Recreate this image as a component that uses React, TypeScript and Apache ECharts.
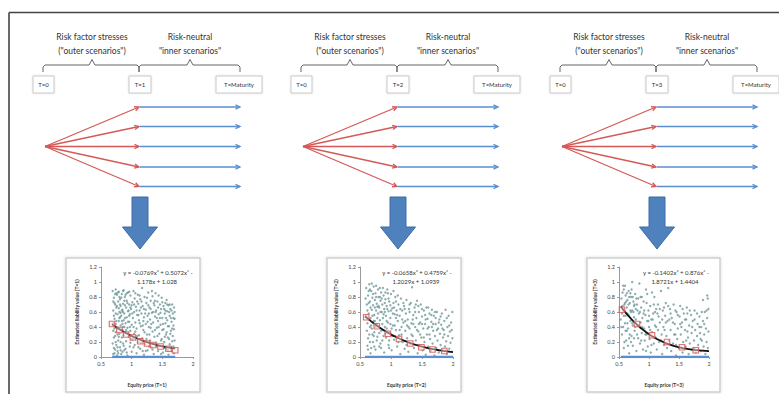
import { useEffect, useRef } from "react";
import * as echarts from "echarts";

const W = 779;
const H = 394;
const FONT = "Lato, 'Open Sans', sans-serif";

// Horizon labels for the three nested-simulation steps
const horizons = ["T=1", "T=2", "T=3"];
const outerTitle = ["Risk factor stresses", '("outer scenarios")'];
const innerTitle = ["Risk-neutral", '"inner scenarios"'];
const startLabel = "T=0";
const endLabel = "T=Maturity";

// Axis ticks shared by the three regression panels
const xTicks = { min: 0.5, max: 2, interval: 0.5 };
const yTicks = { min: 0, max: 1.2, interval: 0.2 };

// Cubic trend-line coefficients [x^3, x^2, x, const]
const coeffsT1 = [-0.0769, 0.5072, -1.178, 1.028];
const coeffsT2 = [-0.0658, 0.4759, -1.2029, 1.0939];
const coeffsT3 = [-0.1402, 0.876, -1.8721, 1.4404];

// x-extent of the trend line and of the zero-valued points
const rangeT1 = [0.68, 1.71];
const rangeT2 = [0.58, 2.0];
const rangeT3 = [0.53, 2.0];

// Regression points (red squares)
const regressionT1 = [
  [0.68, 0.44], [0.8, 0.36], [0.91, 0.3], [1.02, 0.26], [1.14, 0.21],
  [1.25, 0.18], [1.35, 0.16], [1.47, 0.14], [1.6, 0.11], [1.71, 0.09],
];
const regressionT2 = [
  [0.6, 0.53], [0.77, 0.41], [0.95, 0.31], [1.13, 0.24], [1.31, 0.18],
  [1.49, 0.13], [1.67, 0.1], [1.86, 0.08],
];
const regressionT3 = [
  [0.55, 0.63], [0.8, 0.44], [1.05, 0.29], [1.3, 0.2], [1.55, 0.13], [1.78, 0.09],
];

// Simulated liability values against equity price
const scatterT1 = [
  [0.69,0.88],[0.70,0.62],[0.70,0.35],[0.71,0.12],[0.71,0.79],[0.72,0.51],[0.72,0.05],[0.73,0.70],[0.73,0.28],[0.74,0.90],
  [0.74,0.44],[0.75,0.16],[0.75,0.66],[0.76,0.83],[0.76,0.38],[0.77,0.57],[0.77,0.08],[0.78,0.74],[0.78,0.22],[0.79,0.48],
  [0.79,0.87],[0.80,0.31],[0.80,0.60],[0.81,0.13],[0.81,0.77],[0.82,0.42],[0.82,0.68],[0.83,0.04],[0.83,0.55],[0.84,0.84],
  [0.84,0.26],[0.85,0.63],[0.85,0.36],[0.86,0.71],[0.86,0.18],[0.87,0.49],[0.87,0.89],[0.88,0.58],[0.88,0.09],[0.89,0.33],
  [0.89,0.80],[0.90,0.45],[0.91,0.66],[0.91,0.21],[0.92,0.53],[0.92,0.75],[0.93,0.39],[0.93,0.02],[0.94,0.61],[0.94,0.86],
  [0.95,0.27],[0.96,0.47],[0.96,0.70],[0.97,0.14],[0.97,0.57],[0.98,0.82],[0.98,0.35],[0.99,0.64],[1.00,0.43],[1.00,0.07],
  [1.01,0.73],[1.02,0.24],[1.02,0.52],[1.03,0.88],[1.04,0.60],[1.04,0.31],[1.05,0.16],[1.05,0.78],[1.06,0.46],[1.07,0.67],
  [1.08,0.05],[1.08,0.38],[1.09,0.56],[1.10,0.83],[1.10,0.20],[1.11,0.71],[1.12,0.49],[1.12,0.29],[1.13,0.62],[1.14,0.11],
  [1.14,0.77],[1.15,0.41],[1.16,0.58],[1.17,0.92],[1.17,0.25],[1.18,0.68],[1.19,0.36],[1.20,0.03],[1.20,0.53],[1.21,0.80],
  [1.22,0.17],[1.23,0.63],[1.23,0.44],[1.24,0.72],[1.25,0.30],[1.26,0.55],[1.26,0.09],[1.27,0.86],[1.28,0.40],[1.29,0.66],
  [1.30,0.22],[1.30,0.50],[1.31,0.75],[1.32,0.13],[1.33,0.59],[1.34,0.34],[1.34,0.81],[1.35,0.46],[1.36,0.04],[1.37,0.69],
  [1.37,0.27],[1.38,0.54],[1.39,0.85],[1.40,0.19],[1.40,0.62],[1.41,0.39],[1.42,0.74],[1.43,0.08],[1.43,0.48],[1.44,0.57],
  [1.45,0.31],[1.46,0.70],[1.46,0.15],[1.47,0.43],[1.48,0.64],[1.49,0.24],[1.49,0.79],[1.50,0.52],[1.51,0.06],[1.52,0.37],
  [1.52,0.68],[1.53,0.20],[1.54,0.58],[1.55,0.45],[1.55,0.72],[1.56,0.11],[1.57,0.33],[1.58,0.61],[1.58,0.49],[1.59,0.26],
  [1.60,0.69],[1.60,0.03],[1.61,0.41],[1.62,0.55],[1.62,0.17],[1.63,0.64],[1.64,0.35],[1.65,0.47],[1.65,0.08],[1.66,0.70],
  [1.67,0.28],[1.67,0.58],[1.68,0.14],[1.68,0.42],[1.69,0.66],[1.70,0.22],[1.70,0.51],
  [0.70,0.45],[0.72,0.72],[0.74,0.58],[0.76,0.02],[0.78,0.39],[0.80,0.80],[0.82,0.20],[0.84,0.48],[0.86,0.60],[0.88,0.75],
  [0.90,0.11],[0.92,0.85],[0.94,0.32],[0.96,0.55],[0.98,0.19],[1.00,0.69],[1.03,0.40],[1.06,0.85],[1.07,0.26],[1.09,0.74],
  [1.11,0.13],[1.13,0.45],[1.15,0.66],[1.18,0.08],[1.19,0.48],[1.22,0.58],[1.24,0.24],[1.27,0.69],[1.28,0.14],[1.31,0.39],
  [1.33,0.88],[1.35,0.60],[1.36,0.18],[1.38,0.75],[1.41,0.52],[1.42,0.28],[1.44,0.82],[1.47,0.59],[1.48,0.04],[1.50,0.36],
  [1.53,0.64],[1.54,0.27],[1.56,0.52],[1.57,0.76],[1.59,0.09],[1.61,0.60],[1.63,0.31],[1.64,0.52],[1.66,0.21],[1.69,0.37],
  [0.71,0.26],[0.73,0.10],[0.75,0.85],[0.77,0.30],[0.79,0.65],[0.81,0.53],[0.83,0.36],[0.85,0.07],[0.87,0.29],[0.89,0.52],
  [0.69,0.18],[0.70,0.74],[0.71,0.55],[0.72,0.38],[0.73,0.84],[0.74,0.20],[0.75,0.48],[0.76,0.68],[0.77,0.13],[0.78,0.86],
  [0.79,0.27],[0.80,0.52],[0.81,0.70],[0.82,0.09],[0.83,0.79],[0.84,0.62],[0.85,0.44],[0.86,0.88],[0.87,0.15],[0.88,0.40],
  [0.89,0.69],[0.90,0.83],[0.91,0.36],[0.92,0.06],[0.93,0.72],[0.94,0.47],[0.95,0.62],[0.96,0.87],[0.97,0.40],[0.98,0.66],
  [0.99,0.24],[1.01,0.58],[1.03,0.13],[1.04,0.70],[1.06,0.34],[1.08,0.62],[1.09,0.28],[1.11,0.56],[1.13,0.82],[1.15,0.19],
  [1.16,0.74],[1.18,0.42],[1.20,0.64],[1.21,0.33],[1.23,0.08],[1.25,0.79],[1.26,0.47],[1.28,0.58],[1.29,0.30],[1.31,0.64],
  [1.32,0.44],[1.34,0.10],[1.36,0.72],[1.38,0.36],[1.39,0.60],[1.41,0.14],[1.43,0.66],[1.44,0.40],[1.46,0.52],[1.48,0.22],
  [1.50,0.73],[1.51,0.44],[1.53,0.12],[1.55,0.62],[1.56,0.30],[1.58,0.70],[1.59,0.41],[1.61,0.24],[1.62,0.70],[1.64,0.13],
  [1.65,0.62],[1.66,0.38],[1.68,0.52],[1.69,0.05],[1.70,0.60],[0.70,0.04],[0.74,0.33],[0.78,0.05],[0.82,0.59],[0.86,0.40],
];
const scatterT2 = [
  [0.60,0.92],[0.61,0.70],[0.62,0.45],[0.62,0.15],[0.63,0.82],[0.64,0.58],[0.65,0.97],[0.65,0.30],[0.66,0.74],[0.67,0.52],
  [0.67,0.05],[0.68,0.88],[0.69,0.63],[0.69,0.38],[0.70,0.79],[0.71,0.20],[0.71,0.69],[0.72,0.94],[0.73,0.56],[0.73,0.33],
  [0.74,0.76],[0.75,0.10],[0.75,0.85],[0.76,0.62],[0.77,0.44],[0.77,0.71],[0.78,0.27],[0.79,0.90],[0.79,0.58],[0.80,0.80],
  [0.81,0.14],[0.81,0.66],[0.82,0.49],[0.83,0.75],[0.84,0.35],[0.84,0.86],[0.85,0.60],[0.86,0.22],[0.86,0.70],[0.87,0.52],
  [0.88,0.82],[0.89,0.06],[0.89,0.64],[0.90,0.40],[0.91,0.77],[0.92,0.55],[0.92,0.26],[0.93,0.68],[0.94,0.90],[0.95,0.46],
  [0.96,0.16],[0.96,0.61],[0.97,0.74],[0.98,0.33],[0.99,0.52],[1.00,0.84],[1.01,0.09],[1.02,0.65],[1.03,0.42],[1.04,0.72],
  [1.05,0.23],[1.06,0.57],[1.07,0.80],[1.08,0.36],[1.09,0.62],[1.10,0.14],[1.11,0.48],[1.12,0.70],[1.13,0.29],[1.14,0.55],
  [1.15,0.04],[1.16,0.78],[1.17,0.40],[1.18,0.62],[1.19,0.20],[1.20,0.46],[1.21,0.68],[1.22,0.11],[1.23,0.35],[1.24,0.58],
  [1.25,0.76],[1.26,0.25],[1.27,0.50],[1.28,0.07],[1.29,0.64],[1.30,0.38],[1.31,0.18],[1.32,0.72],[1.33,0.45],[1.34,0.93],
  [1.35,0.28],[1.36,0.56],[1.37,0.12],[1.38,0.66],[1.39,0.40],[1.40,0.22],[1.41,0.52],[1.42,0.75],[1.43,0.05],[1.44,0.34],
  [1.45,0.60],[1.46,0.16],[1.47,0.46],[1.48,0.70],[1.49,0.26],[1.50,0.54],[1.51,0.09],[1.52,0.38],[1.53,0.62],[1.54,0.20],
  [1.55,0.44],[1.56,0.03],[1.57,0.66],[1.58,0.30],[1.59,0.51],[1.60,0.14],[1.61,0.40],[1.62,0.58],[1.63,0.24],[1.64,0.08],
  [1.65,0.47],[1.66,0.63],[1.67,0.18],[1.68,0.35],[1.69,0.55],[1.70,0.02],[1.71,0.28],[1.72,0.44],[1.73,0.12],[1.74,0.60],
  [1.75,0.22],[1.76,0.38],[1.77,0.06],[1.78,0.50],[1.79,0.31],[1.80,0.16],[1.81,0.43],[1.82,0.58],[1.83,0.09],[1.84,0.26],
  [1.85,0.36],[1.86,0.48],[1.87,0.14],[1.88,0.63],[1.89,0.21],[1.90,0.04],[1.91,0.40],[1.92,0.28],[1.93,0.55],[1.94,0.11],
  [1.95,0.34],[1.96,0.19],[1.97,0.46],[1.98,0.07],[1.99,0.25],[1.99,0.60],
  [0.60,0.55],[0.63,0.25],[0.64,0.88],[0.66,0.40],[0.68,0.12],[0.70,0.55],[0.72,0.28],[0.74,0.48],[0.76,0.95],[0.78,0.67],
  [0.80,0.41],[0.82,0.92],[0.83,0.18],[0.85,0.78],[0.87,0.36],[0.88,0.57],[0.90,0.72],[0.91,0.31],[0.93,0.48],[0.95,0.85],
  [0.97,0.22],[0.99,0.69],[1.01,0.38],[1.03,0.58],[1.05,0.66],[1.08,0.52],[1.11,0.82],[1.14,0.36],[1.18,0.50],[1.22,0.64],
  [1.26,0.42],[1.30,0.60],[1.35,0.50],[1.40,0.70],[1.45,0.44],[1.50,0.64],[1.55,0.56],[1.60,0.66],[1.66,0.40],[1.72,0.52],
  [0.59,0.78],[0.61,0.35],[0.62,0.62],[0.63,0.10],[0.64,0.72],[0.66,0.90],[0.66,0.20],[0.67,0.66],[0.68,0.42],[0.69,0.98],
  [0.70,0.30],[0.71,0.84],[0.72,0.48],[0.73,0.14],[0.74,0.66],[0.75,0.40],[0.76,0.80],[0.77,0.22],[0.78,0.52],[0.80,0.68],
  [0.81,0.32],[0.82,0.80],[0.83,0.60],[0.84,0.12],[0.86,0.44],[0.87,0.92],[0.88,0.28],[0.90,0.60],[0.91,0.86],[0.93,0.38],
  [0.94,0.64],[0.96,0.78],[0.97,0.12],[0.99,0.44],[1.00,0.62],[1.02,0.28],[1.04,0.88],[1.06,0.42],[1.08,0.74],[1.10,0.56],
  [1.12,0.20],[1.15,0.64],[1.17,0.30],[1.20,0.72],[1.23,0.48],[1.25,0.16],[1.28,0.40],[1.30,0.70],[1.33,0.30],[1.36,0.44],
  [1.39,0.60],[1.42,0.36],[1.44,0.68],[1.47,0.30],[1.50,0.44],[1.53,0.26],[1.56,0.50],[1.59,0.38],[1.62,0.30],[1.65,0.56],
  [1.68,0.44],[1.71,0.60],[1.74,0.36],[1.77,0.46],[1.80,0.54],[1.83,0.38],[1.86,0.30],[1.90,0.52],[1.94,0.42],[1.98,0.36],
];
const scatterT3 = [
  [0.53,0.50],[0.54,0.78],[0.55,0.30],[0.56,0.86],[0.57,0.62],[0.58,0.12],[0.59,0.70],[0.60,0.95],[0.60,0.45],[0.61,0.82],
  [0.62,0.22],[0.63,0.66],[0.64,0.76],[0.65,0.38],[0.66,0.88],[0.66,0.56],[0.67,0.05],[0.68,0.72],[0.69,0.48],[0.70,0.80],
  [0.71,0.28],[0.72,0.62],[0.72,1.00],[0.73,0.15],[0.74,0.74],[0.75,0.53],[0.76,0.35],[0.77,0.84],[0.78,0.64],[0.79,0.08],
  [0.80,0.70],[0.81,0.42],[0.82,0.25],[0.83,0.58],[0.84,0.98],[0.85,0.18],[0.86,0.46],[0.87,0.66],[0.88,0.32],[0.89,0.52],
  [0.90,0.10],[0.91,0.74],[0.92,0.38],[0.93,0.22],[0.94,0.56],[0.95,0.90],[0.96,0.30],[0.97,0.48],[0.98,0.14],[0.99,0.62],
  [1.00,0.40],[1.01,0.24],[1.02,0.68],[1.03,0.06],[1.04,0.50],[1.05,0.33],[1.07,0.58],[1.08,0.18],[1.09,0.80],[1.10,0.42],
  [1.11,0.26],[1.12,0.64],[1.13,0.10],[1.15,0.36],[1.16,0.54],[1.17,0.20],[1.18,0.46],[1.20,0.88],[1.21,0.30],[1.22,0.04],
  [1.23,0.62],[1.24,0.40],[1.25,0.16],[1.27,0.55],[1.28,0.72],[1.29,0.28],[1.30,0.12],[1.31,0.48],[1.32,0.92],[1.33,0.22],
  [1.35,0.64],[1.36,0.36],[1.37,0.08],[1.38,0.52],[1.40,0.18],[1.41,0.70],[1.42,0.30],[1.43,0.44],[1.45,0.02],[1.46,0.60],
  [1.47,0.24],[1.48,0.38],[1.50,0.12],[1.51,0.54],[1.52,0.68],[1.53,0.30],[1.55,0.46],[1.56,0.06],[1.57,0.20],[1.58,0.58],
  [1.60,0.36],[1.61,0.14],[1.62,0.50],[1.63,0.66],[1.65,0.26],[1.66,0.04],[1.67,0.42],[1.68,0.18],[1.70,0.56],[1.71,0.32],
  [1.72,0.10],[1.73,0.48],[1.75,0.22],[1.76,0.62],[1.77,0.36],[1.78,0.06],[1.80,0.28],[1.81,0.44],[1.82,0.16],[1.84,0.54],
  [1.85,0.32],[1.86,0.08],[1.87,0.40],[1.88,0.22],[1.90,0.76],[1.90,0.48],[1.91,0.14],[1.92,0.30],[1.93,0.60],[1.94,0.04],
  [1.95,0.38],[1.96,0.20],[1.97,0.82],[1.97,0.52],[1.98,0.12],[1.99,0.34],[1.99,0.64],
  [0.55,0.58],[0.57,0.40],[0.58,0.90],[0.59,0.20],[0.61,0.55],[0.62,0.74],[0.63,0.35],[0.64,0.58],[0.65,0.15],[0.67,0.80],
  [0.68,0.30],[0.69,0.62],[0.70,0.20],[0.71,0.90],[0.73,0.42],[0.74,0.60],[0.75,0.25],[0.76,0.70],[0.78,0.50],[0.80,0.30],
  [0.82,0.78],[0.85,0.60],[0.88,0.80],[0.92,0.62],[0.96,0.72],[1.00,0.55],[1.05,0.86],[1.10,0.60],[1.15,0.70],[1.25,0.66],
  [1.34,0.50],[1.44,0.62],[1.54,0.40],[1.64,0.58],
  [0.54,0.40],[0.56,0.68],[0.57,0.95],[0.58,0.55],[0.60,0.72],[0.61,0.35],[0.63,0.85],[0.64,0.45],[0.66,0.70],[0.67,0.25],
  [0.69,0.85],[0.70,0.60],[0.72,0.45],[0.73,0.80],[0.75,0.68],[0.77,0.40],[0.79,0.78],[0.81,0.62],[0.83,0.42],[0.86,0.80],
  [0.89,0.40],[0.91,0.58],[0.94,0.30],[0.97,0.84],[0.99,0.48],[1.02,0.36],[1.06,0.50],[1.08,0.70],[1.12,0.40],[1.14,0.58],
  [1.18,0.64],[1.22,0.50],[1.26,0.36],[1.28,0.46],[1.32,0.68],[1.36,0.58],[1.40,0.46],[1.44,0.30],[1.48,0.56],[1.52,0.44],
  [1.56,0.64],[1.60,0.50],[1.64,0.34],[1.68,0.62],[1.72,0.40],[1.76,0.50],[1.80,0.58],[1.84,0.40],[1.88,0.60],[1.92,0.44],
  [1.96,0.62],[1.98,0.78],[1.20,0.22],[1.04,0.16],[0.95,0.08],[0.87,0.22],[1.45,0.16],[1.62,0.22],[1.75,0.12],[1.86,0.24],
];

// Panel geometry (pixels): diagram origin, result box left edge, plot left, plot width
const panelLayout = [
  { origin: 45, box: 66, boxW: 134, plot: 101, plotW: 92 },
  { origin: 303, box: 327, boxW: 134, plot: 360, plotW: 93 },
  { origin: 562, box: 587, boxW: 133, plot: 619, plotW: 90 },
];
const PLOT_TOP = 267;
const PLOT_H = 90;

const RED = "#d45a58";
const BLUE = "#5b8ed0";
const ARROW_BLUE = "#4f81bd";

const fmt = (v: number) => String(v);

function trendLine(c: number[], range: number[]) {
  const pts: number[][] = [];
  const steps = 60;
  for (let i = 0; i <= steps; i++) {
    const x = range[0] + ((range[1] - range[0]) * i) / steps;
    pts.push([x, ((c[0] * x + c[1]) * x + c[2]) * x + c[3]]);
  }
  return pts;
}

function equationLines(c: number[]) {
  const s1 = c[1] < 0 ? "-" : "+";
  const s2 = c[2] < 0 ? "-" : "+";
  const s3 = c[3] < 0 ? "-" : "+";
  return [
    `y = ${fmt(c[0])}x³ ${s1} ${fmt(Math.abs(c[1]))}x² ${s2}`,
    `${fmt(Math.abs(c[2]))}x ${s3} ${fmt(Math.abs(c[3]))}`,
  ];
}

function arrowHead(x1: number, y1: number, x2: number, y2: number, color: string) {
  const a = Math.atan2(y2 - y1, x2 - x1);
  const L = 5;
  const s = 0.45;
  return {
    type: "polyline",
    shape: {
      points: [
        [x2 - L * Math.cos(a - s), y2 - L * Math.sin(a - s)],
        [x2, y2],
        [x2 - L * Math.cos(a + s), y2 - L * Math.sin(a + s)],
      ],
    },
    style: { stroke: color, lineWidth: 1.3, fill: null },
    silent: true,
  };
}

function diagramElements(o: number, horizon: string) {
  const els: any[] = [];
  const mid = o + 94;
  const end = o + 195;
  const c1 = o + 47;
  const c2 = o + 145;
  const textStyle = (x: number, y: number, t: string, size: number) => ({
    type: "text",
    x,
    y,
    style: { text: t, fill: "#333", font: `${size}px ${FONT}`, align: "center", verticalAlign: "middle" },
    silent: true,
  });
  els.push(textStyle(c1, 37, outerTitle[0], 8.5));
  els.push(textStyle(c1, 51, outerTitle[1], 8.5));
  els.push(textStyle(c2, 37, innerTitle[0], 8.5));
  els.push(textStyle(c2, 51, innerTitle[1], 8.5));

  // curly braces over the two time spans
  const brace = (a: number, b: number, c: number) => ({
    type: "polyline",
    shape: {
      points: [
        [a, 72], [a, 67], [a + 2, 65], [c - 3, 65], [c, 59.5], [c + 3, 65], [b - 2, 65], [b, 67], [b, 72],
      ],
    },
    style: { stroke: "#666", lineWidth: 1, fill: null },
    silent: true,
  });
  els.push(brace(o - 2, mid, c1));
  els.push(brace(mid, end, c2));

  // time-point boxes
  const box = (x: number, w: number, t: string) => [
    {
      type: "rect",
      shape: { x, y: 76, width: w, height: 17 },
      style: { fill: "#fff", stroke: "#c9c9c9", lineWidth: 1, shadowBlur: 2, shadowColor: "rgba(0,0,0,0.12)" },
      silent: true,
    },
    textStyle(x + w / 2, 84.5, t, 6),
  ];
  els.push(...box(o - 12, 21, startLabel));
  els.push(...box(o + 84, 22, horizon));
  els.push(...box(o + 171, 46, endLabel));

  // outer (red) and inner (blue) scenario paths
  const ys = [107, 126.5, 146.5, 167, 186.5];
  const oy = 146.5;
  ys.forEach((y) => {
    els.push({
      type: "line",
      shape: { x1: o, y1: oy, x2: mid, y2: y },
      style: { stroke: RED, lineWidth: 1.3 },
      silent: true,
    });
    els.push(arrowHead(o, oy, mid, y, RED));
    els.push({
      type: "line",
      shape: { x1: mid + 1, y1: y, x2: end, y2: y },
      style: { stroke: BLUE, lineWidth: 1.3 },
      silent: true,
    });
    els.push(arrowHead(mid, y, end, y, BLUE));
  });

  // block arrow pointing to the regression panel
  const c = o + 95;
  els.push({
    type: "polygon",
    shape: {
      points: [
        [c - 8, 197], [c + 8, 197], [c + 8, 227], [c + 17.5, 227], [c, 249], [c - 17.5, 227], [c - 8, 227],
      ],
    },
    style: { fill: ARROW_BLUE, stroke: "#3d6ca6", lineWidth: 1 },
    silent: true,
  });
  return els;
}

export default function App() {
  const ref = useRef<HTMLDivElement>(null);

  useEffect(() => {
    if (!ref.current) return;
    const chart = echarts.init(ref.current, undefined, { renderer: "svg", width: W, height: H });

    const panels = [
      { coeffs: coeffsT1, range: rangeT1, reg: regressionT1, pts: scatterT1 },
      { coeffs: coeffsT2, range: rangeT2, reg: regressionT2, pts: scatterT2 },
      { coeffs: coeffsT3, range: rangeT3, reg: regressionT3, pts: scatterT3 },
    ];

    const graphic: any[] = [
      { type: "line", shape: { x1: 9, y1: 12.5, x2: W, y2: 12.5 }, style: { stroke: "#444", lineWidth: 1.6 }, silent: true },
      { type: "line", shape: { x1: 9, y1: 12.5, x2: 9, y2: H }, style: { stroke: "#444", lineWidth: 1.6 }, silent: true },
    ];

    const grid: any[] = [];
    const xAxis: any[] = [];
    const yAxis: any[] = [];
    const series: any[] = [];

    panels.forEach((p, i) => {
      const L = panelLayout[i];
      const h = horizons[i];
      graphic.push(...diagramElements(L.origin, h));

      // result panel frame
      graphic.push({
        type: "rect",
        z: -10,
        shape: { x: L.box, y: 258, width: L.boxW, height: 134 },
        style: { fill: "#fff", stroke: "#cfcfcf", lineWidth: 1.5, shadowBlur: 3, shadowColor: "rgba(0,0,0,0.15)" },
        silent: true,
      });
      const eq = equationLines(p.coeffs);
      const ex = L.plot + 57;
      graphic.push({
        type: "text",
        x: ex,
        y: 272,
        style: { text: eq[0], fill: "#333", font: `6px ${FONT}`, align: "center", verticalAlign: "middle" },
        silent: true,
      });
      graphic.push({
        type: "text",
        x: ex - 1,
        y: 281,
        style: { text: eq[1], fill: "#333", font: `6px ${FONT}`, align: "center", verticalAlign: "middle" },
        silent: true,
      });

      grid.push({ left: L.plot, top: PLOT_TOP, width: L.plotW, height: PLOT_H });
      const axisCommon = {
        axisLine: { show: true, lineStyle: { color: "#9a9a9a", width: 1 } },
        axisTick: { show: true, length: 2, lineStyle: { color: "#9a9a9a" } },
        splitLine: { show: false },
        axisLabel: { fontSize: 5.5, color: "#444", fontFamily: FONT, margin: 4 },
        nameLocation: "middle",
        nameTextStyle: { fontSize: 5, fontWeight: "bold", color: "#333", fontFamily: FONT },
      };
      xAxis.push({
        ...axisCommon,
        gridIndex: i,
        type: "value",
        ...xTicks,
        name: `Equity price (${h})`,
        nameGap: 25,
      });
      yAxis.push({
        ...axisCommon,
        gridIndex: i,
        type: "value",
        ...yTicks,
        name: `Estimated liability value (${h})`,
        nameGap: 22,
      });

      series.push({
        type: "scatter",
        xAxisIndex: i,
        yAxisIndex: i,
        data: p.pts,
        symbol: "circle",
        symbolSize: 2.4,
        itemStyle: { color: "#6f9798" },
        silent: true,
      });
      series.push({
        type: "line",
        xAxisIndex: i,
        yAxisIndex: i,
        data: [
          [p.range[0], 0],
          [p.range[1], 0],
        ],
        showSymbol: false,
        lineStyle: { color: BLUE, width: 2.5 },
        silent: true,
      });
      series.push({
        type: "line",
        xAxisIndex: i,
        yAxisIndex: i,
        data: trendLine(p.coeffs, p.range),
        showSymbol: false,
        smooth: true,
        lineStyle: { color: "#111", width: 1.8 },
        silent: true,
      });
      series.push({
        type: "scatter",
        xAxisIndex: i,
        yAxisIndex: i,
        data: p.reg,
        symbol: "rect",
        symbolSize: 5.5,
        itemStyle: { color: "rgba(255,235,235,0.6)", borderColor: "#d9534f", borderWidth: 1.2 },
        silent: true,
        z: 5,
      });
    });

    chart.setOption({
      animation: false,
      backgroundColor: "#fff",
      textStyle: { fontFamily: FONT },
      graphic,
      grid,
      xAxis,
      yAxis,
      series,
    });

    return () => chart.dispose();
  }, []);

  return (
    <div
      ref={ref}
      style={{ position: "fixed", left: 0, top: 0, width: W, height: H, background: "#fff" }}
    />
  );
}
